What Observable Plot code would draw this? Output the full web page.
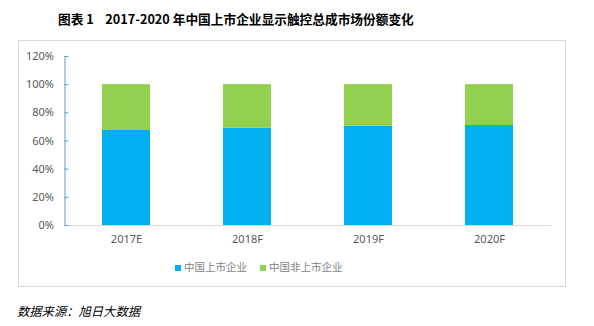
<!DOCTYPE html>
<html>
<head>
<meta charset="utf-8">
<script src="https://cdn.jsdelivr.net/npm/d3@7"></script>
<script src="https://cdn.jsdelivr.net/npm/@observablehq/plot@0.6"></script>
<style>
  html, body { margin: 0; padding: 0; background: #fff; }
  body { width: 594px; height: 326px; position: relative; overflow: hidden; font-family: "Noto Sans CJK SC", "Noto Sans", sans-serif; }
  #title { position: absolute; left: 58px; top: 9px; font-size: 12.7px; font-weight: bold; color: #000; white-space: nowrap; }
  #frame { position: absolute; left: 18px; top: 40px; width: 546px; height: 245px; border: 1px solid #d9d9d9; }
  #chart { position: absolute; left: 0; top: 40px; }
  #legend { position: absolute; left: 175px; top: 259px; font-size: 10.5px; color: #7f7f7f; white-space: nowrap; }
  #legend span.item { display: inline-block; margin-right: 13px; }
  #legend span.sw { display: inline-block; width: 6px; height: 6px; margin-right: 3px; vertical-align: 0px; }
  #caption { position: absolute; left: 17px; top: 302px; font-size: 12.3px; font-style: italic; color: #000; white-space: nowrap; }
</style>
</head>
<body>
<div id="title">图表 1&nbsp;&nbsp;&nbsp;&nbsp;2017-2020 年中国上市企业显示触控总成市场份额变化</div>
<div id="frame"></div>
<div id="chart"></div>
<div id="legend"></div>
<div id="caption">数据来源：旭日大数据</div>
<script>
const years = ["2017E", "2018F", "2019F", "2020F"];
const seriesNames = ["中国上市企业", "中国非上市企业"];
const listed = [67.5, 69, 70.5, 71];
const unlisted = listed.map(v => 100 - v);
const colors = ["#00b0f0", "#92d050"];
const yTicks = [0, 20, 40, 60, 80, 100, 120];

const data = [];
years.forEach((y, i) => {
  data.push({year: y, series: seriesNames[0], value: listed[i]});
  data.push({year: y, series: seriesNames[1], value: unlisted[i]});
});

const plot = Plot.plot({
  width: 594,
  height: 215,
  marginLeft: 64.5,
  marginRight: 42.5,
  marginTop: 16,
  marginBottom: 30,
  style: { fontFamily: "'Noto Sans', sans-serif", fontSize: "11px", color: "#595959", background: "transparent" },
  x: { domain: years, paddingInner: 0.6, paddingOuter: 0.3, label: null, axis: null },
  y: { domain: [0, 120], label: null, axis: null },
  color: { domain: seriesNames, range: colors },
  marks: [
    Plot.barY(data, Plot.stackY({x: "year", y: "value", fill: "series", order: seriesNames})),
    Plot.ruleY([0], {stroke: "#d9d9d9", strokeWidth: 1}),
    Plot.frame({anchor: "left", stroke: "#5b9bd5", strokeWidth: 1}),
    Plot.axisY(yTicks, {anchor: "left", tickSize: -4, tickPadding: 15, stroke: "#5b9bd5", tickFormat: d => d + "%", fill: "#595959", fontSize: 11, label: null}),
    Plot.axisX(years, {anchor: "bottom", tickSize: 0, tickPadding: 10, fill: "#595959", fontSize: 11, label: null})
  ]
});
document.getElementById("chart").appendChild(plot);

const legend = document.getElementById("legend");
seriesNames.forEach((n, i) => {
  const s = document.createElement("span");
  s.className = "item";
  s.innerHTML = `<span class="sw" style="background:${colors[i]}"></span>${n}`;
  legend.appendChild(s);
});
</script>
</body>
</html>
